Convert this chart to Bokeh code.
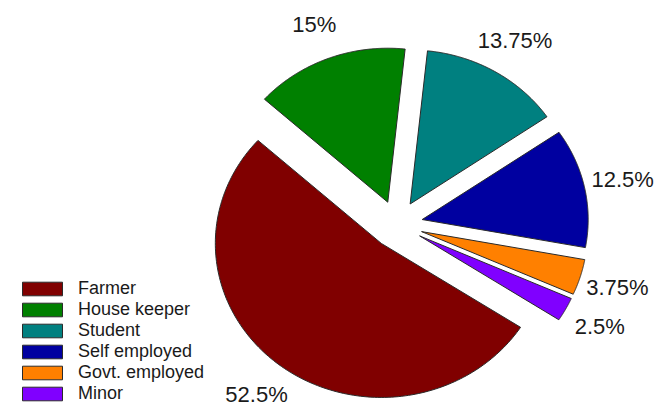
import numpy as np
from bokeh.plotting import figure
from bokeh.models import ColumnDataSource, Range1d, Legend, LegendItem
from bokeh.embed import file_html
from bokeh.resources import INLINE
from bokeh.core.properties import value

# ---- data ----
categories = ["Farmer", "House keeper", "Student", "Self employed", "Govt. employed", "Minor"]
percents = [52.5, 15, 13.75, 12.5, 3.75, 2.5]
labels = ["52.5%", "15%", "13.75%", "12.5%", "3.75%", "2.5%"]
colors = ["#800000", "#008000", "#008080", "#0000A0", "#FF8000", "#8000FF"]

# ---- layout / style ----
START_DEG = -33.0      # first slice starts here, slices go clockwise
EXPLODE = 0.155        # radial offset of each slice (pie radius = 1)
LABEL_R = 1.39         # label distance from pie centre
W, H = 663, 406
RX, RY = 166, 154      # px per data unit (x, y)
CX, CY = 396.5, 224    # pie centre in canvas px (from left, from top)

frac = np.array(percents, dtype=float) / float(sum(percents))
spans = frac * 2 * np.pi
cum = np.cumsum(spans)
a0 = np.deg2rad(START_DEG) - (cum - spans)
a1 = a0 - spans
mid = (a0 + a1) / 2

xs, ys = [], []
for s, e, m in zip(a0, a1, mid):
    t = np.linspace(s, e, 160)
    ox, oy = EXPLODE * np.cos(m), EXPLODE * np.sin(m)
    xs.append(np.concatenate([[ox], ox + np.cos(t)]).tolist())
    ys.append(np.concatenate([[oy], oy + np.sin(t)]).tolist())

src = ColumnDataSource(dict(xs=xs, ys=ys, color=colors, cat=categories))
lab_src = ColumnDataSource(dict(x=(LABEL_R * np.cos(mid)).tolist(),
                                y=(LABEL_R * np.sin(mid)).tolist(),
                                text=labels))

p = figure(width=W, height=H, output_backend="svg", toolbar_location=None,
           x_range=Range1d(-CX / RX, (W - CX) / RX),
           y_range=Range1d(-(H - CY) / RY, CY / RY),
           min_border=0)
p.axis.visible = False
p.grid.visible = False
p.outline_line_color = None
p.background_fill_color = "white"
p.border_fill_color = "white"

r = p.patches("xs", "ys", source=src, fill_color="color", line_color="#2a2a2a",
              line_width=1)

p.text("x", "y", text="text", source=lab_src, text_align="center",
       text_baseline="middle", text_font=value("Liberation Sans"),
       text_font_size="22px", text_color="#1a1a1a")

items = [LegendItem(label=c, renderers=[r], index=i) for i, c in enumerate(categories)]
legend = Legend(items=items, location=(17, 2), padding=0, margin=0, spacing=0,
                glyph_width=50, glyph_height=17, label_standoff=11,
                label_height=14, label_text_font="Liberation Sans",
                label_text_font_size="18px", label_text_color="#1a1a1a",
                background_fill_alpha=0, border_line_color=None)
p.add_layout(legend)

open("out.html", "w").write(file_html(p, INLINE))
